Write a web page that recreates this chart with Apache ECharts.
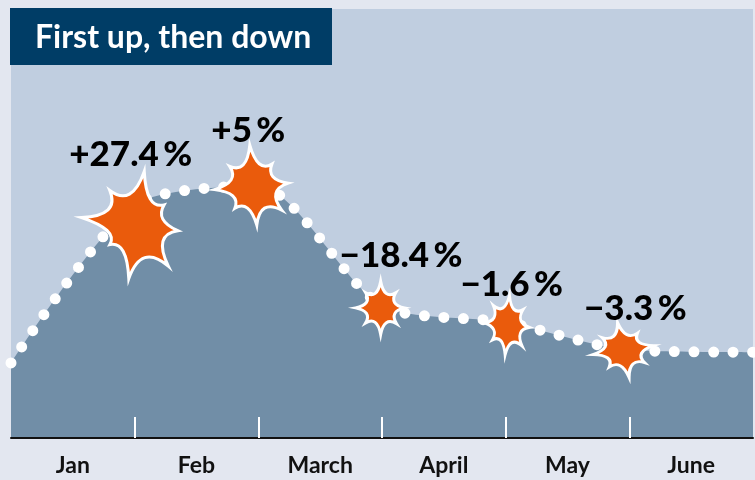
<!DOCTYPE html>
<html>
<head>
<meta charset="utf-8">
<script src="https://cdn.jsdelivr.net/npm/echarts@6/dist/echarts.min.js"></script>
<style>
html,body{margin:0;padding:0;background:#e3e7f0;}
#c{width:755px;height:480px;}
</style>
</head>
<body>
<div id="c"></div>
<script>
// ---- data ----
const title = 'First up, then down';
const months = ['Jan', 'Feb', 'March', 'April', 'May', 'June'];
const boundaries = [0, 1, 2, 3, 4, 5, 6];          // month boundaries on the x scale
const values = [17.5, 54.3, 58.7, 30.8, 27.0, 20.5, 20.0];
const changes = [27.4, 5, -18.4, -1.6, -3.3];       // change at boundaries 1..5

// ---- helpers ----
function fmtChange(v) {
  const s = v > 0 ? '+' : '\u2212';
  return s + String(Math.abs(v)) + '\u2009%';
}
function starPath(radii, rot, inner) {
  const n = radii.length;
  const f = x => (x * 100).toFixed(1);
  const pts = radii.map((r, i) => {
    const a = (rot + i * 360 / n) * Math.PI / 180;
    return [r * Math.sin(a), -r * Math.cos(a)];
  });
  let d = 'M' + f(pts[0][0]) + ' ' + f(pts[0][1]);
  for (let i = 0; i < n; i++) {
    const q = pts[(i + 1) % n];
    const am = (rot + (i + 0.5) * 360 / n) * Math.PI / 180;
    const c = [inner * Math.sin(am), -inner * Math.cos(am)];
    d += ' Q' + f(c[0]) + ' ' + f(c[1]) + ' ' + f(q[0]) + ' ' + f(q[1]);
  }
  return 'path://' + d + ' Z';
}

// ---- styles for the five stars (shape, size, nudges) ----
const starStyles = [
  { radii: [1.0, 0.62, 0.75, 0.95, 1.0, 0.6, 1.0, 0.8], rot: 8,  size: [110, 107], off: [-5, 20],  lab: [1, -70] },
  { radii: [1.0, 0.7, 0.85, 0.9, 0.95, 0.7, 0.95, 0.75], rot: -5, size: [80, 80],  off: [-7, -1],  lab: [-3, -54] },
  { radii: [1.0, 0.8, 0.9, 0.85, 1.0, 0.8, 0.95, 0.8], rot: 0,  size: [53, 53],   off: [-2, 2],   lab: [21, -52] },
  { radii: [1.0, 0.8, 0.85, 0.9, 1.0, 0.75, 0.9, 0.85], rot: 5, size: [51, 60],   off: [1, 3],    lab: [5, -40] },
  { radii: [1.0, 0.75, 0.95, 0.8, 1.0, 0.75, 0.95, 0.8], rot: -10, size: [64, 54], off: [-6, 0],   lab: [12, -41] }
];

const areaData = boundaries.map((b, i) => [b, values[i]]);
const starData = changes.map((c, i) => {
  const st = starStyles[i];
  return {
    value: [boundaries[i + 1], values[i + 1]],
    symbol: starPath(st.radii, st.rot, 0.34),
    symbolSize: st.size,
    symbolOffset: st.off,
    label: { offset: st.lab, formatter: fmtChange(c) }
  };
});

const FONT = 'Lato';
const chart = echarts.init(document.getElementById('c'), null, { renderer: 'canvas' });
chart.setOption({
  backgroundColor: '#e3e7f0',
  animation: false,
  grid: {
    left: 11, right: 2, top: 9, bottom: 42,
    show: true, backgroundColor: '#c0cee0', borderWidth: 0
  },
  xAxis: {
    type: 'value', min: 0, max: 6, interval: 1, z: 5,
    splitLine: { show: false },
    axisLine: { show: true, onZero: false, lineStyle: { color: '#111', width: 2 } },
    axisTick: { show: true, inside: true, length: 21, customValues: [1, 2, 3, 4, 5],
      lineStyle: { color: '#ffffff', width: 2 } },
    axisLabel: {
      show: true, customValues: [0.5, 1.5, 2.5, 3.5, 4.5, 5.5],
      formatter: v => months[Math.floor(v)],
      margin: 16, color: '#111111', fontFamily: FONT, fontWeight: 'bold', fontSize: 23
    }
  },
  yAxis: { type: 'value', min: 0, max: 100, show: false, splitLine: { show: false } },
  series: [
    {
      type: 'line', data: areaData, smooth: 0.25, showSymbol: false, z: 2,
      lineStyle: { color: '#ffffff', width: 11, type: [0, 19.5], cap: 'round' },
      areaStyle: { color: '#718ea7', opacity: 1 }
    },
    {
      type: 'scatter', data: starData, z: 4, symbolKeepAspect: true,
      itemStyle: { color: '#ea5b0c', borderColor: '#ffffff', borderWidth: 3, opacity: 1 },
      label: {
        show: true, position: 'inside', color: '#000000',
        fontFamily: FONT, fontWeight: 900, fontSize: 35
      }
    }
  ],
  graphic: [
    { type: 'rect', left: 10, top: 8, shape: { width: 322, height: 57 }, style: { fill: '#003d66' }, z: 10 },
    { type: 'text', x: 35, y: 38, z: 11,
      style: { text: title, fill: '#ffffff', font: 'bold 32px ' + FONT, verticalAlign: 'middle' } }
  ]
});
</script>
</body>
</html>
